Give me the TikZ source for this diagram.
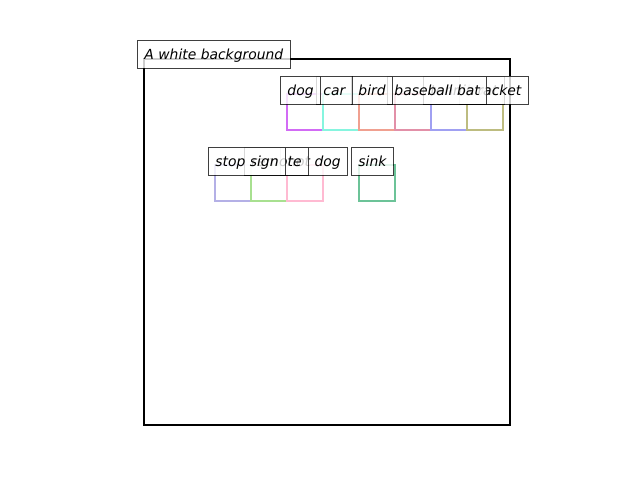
\documentclass[tikz,border=0pt]{standalone}
\usepackage{fontspec}
\setmainfont{DejaVu Sans}
\begin{document}
\begin{tikzpicture}[x=0.72pt,y=-0.72pt,
  lab/.style={anchor=west,draw=black,draw opacity=0.75,line width=0.7pt,fill=white,fill opacity=0.8,text opacity=1,
    font=\fontsize{10}{12}\selectfont\itshape,inner xsep=5pt,inner ysep=0pt,minimum height=20.16pt,text height=8.6pt,text depth=1.4pt},
  bb/.style={line width=1.7pt,line join=miter}]
\useasboundingbox (0,0) rectangle (640,480);
\definecolor{c1}{HTML}{D26BF5}
\definecolor{c2}{HTML}{86F5DF}
\definecolor{c3}{HTML}{F0A090}
\definecolor{c4}{HTML}{E290A8}
\definecolor{c5}{HTML}{A0A0F2}
\definecolor{c6}{HTML}{BDBC80}
\definecolor{c7}{HTML}{B4B0E6}
\definecolor{c8}{HTML}{A8E090}
\definecolor{c9}{HTML}{FFBAD2}
\definecolor{c10}{HTML}{6CC398}
% axes frame
\draw[line width=1.5pt] (144,59) rectangle (510,425);
% boxes row 1
\draw[bb,c1] (287,94) rectangle (323,130);
\draw[bb,c2] (323,94) rectangle (359,130);
\draw[bb,c3] (359,94) rectangle (395,130);
\draw[bb,c4] (395,94) rectangle (431,130);
\draw[bb,c5] (431,94) rectangle (467,130);
\draw[bb,c6] (467,94) rectangle (503,130);
% boxes row 2
\draw[bb,c7] (215,165) rectangle (251,201);
\draw[bb,c8] (251,165) rectangle (287,201);
\draw[bb,c9] (287,165) rectangle (323,201);
\draw[bb,c10] (359,165) rectangle (395,201);
% labels
\node[lab] (title) at (137,54) {A white background};
\node[lab] (l6) at (459,90) {boat};
\node[lab] (l5) at (423,90) {tennis racket};
\node[lab] (l4) at (387,90) {baseball bat};
\node[lab] (l3) at (351,90) {bird};
\node[lab] (l2) at (316,90) {car};
\node[lab] (l1) at (280,90) {dog};
\node[lab] (m3) at (280,161) {hot dog};
\node[lab] (m2) at (244,161) {remote};
\node[lab] (m1) at (208,161) {stop sign};
\node[lab] (m4) at (351,161) {sink};
\end{tikzpicture}
\end{document}
